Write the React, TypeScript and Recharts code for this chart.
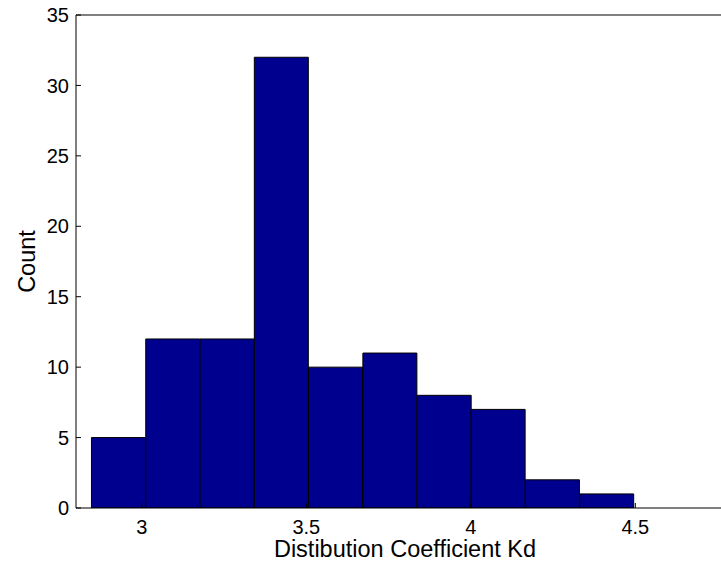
import React from "react";
import { BarChart, Bar, XAxis, YAxis, Label } from "recharts";

// histogram bins (bin centres) and counts
const binCenters = [2.929, 3.094, 3.259, 3.424, 3.589, 3.754, 3.919, 4.083, 4.248, 4.413];
const counts = [5, 12, 12, 32, 10, 11, 8, 7, 2, 1];
const xTicks = [3, 3.5, 4, 4.5];
const yTicks = [0, 5, 10, 15, 20, 25, 30, 35];

const data = binCenters.map((c, i) => ({ center: c, count: counts[i] }));

const FONT = "'Liberation Sans', Arial, Helvetica, sans-serif";

export default function App() {
    return (
        <div style={{
            position: "fixed",
            left: 0,
            top: 0,
            width: 721,
            height: 563,
            overflow: "hidden",
            background: "#fff",
        }}>
            <BarChart
                width={734}
                height={563}
                data={data}
                margin={{ top: 14, right: 0, bottom: 0, left: 0 }}
                barCategoryGap={0}
                barGap={0}
            >
                <XAxis
                    xAxisId="top"
                    orientation="top"
                    type="number"
                    dataKey="center"
                    domain={[2.8, 4.8]}
                    ticks={xTicks}
                    allowDataOverflow
                    height={1}
                    tick={false}
                    tickSize={-5}
                    axisLine={{ stroke: "#000" }}
                    tickLine={{ stroke: "#000" }}
                />
                <XAxis
                    type="number"
                    dataKey="center"
                    domain={[2.8, 4.8]}
                    ticks={xTicks}
                    allowDataOverflow
                    height={55}
                    tickSize={-5}
                    tickMargin={17}
                    axisLine={{ stroke: "#000" }}
                    tickLine={{ stroke: "#000" }}
                    tick={{ fontSize: 20, fill: "#000", fontFamily: FONT }}
                >
                    <Label
                        value="Distibution Coefficient Kd"
                        position="insideBottom"
                        offset={6}
                        fill="#000"
                        style={{ fontSize: 23.5, fontFamily: FONT, fill: "#000" }}
                    />
                </XAxis>
                <YAxis
                    type="number"
                    domain={[0, 35]}
                    ticks={yTicks}
                    allowDataOverflow
                    width={76}
                    tickSize={-5}
                    tickMargin={12}
                    axisLine={{ stroke: "#000" }}
                    tickLine={{ stroke: "#000" }}
                    tick={{ fontSize: 20, fill: "#000", fontFamily: FONT }}
                >
                    <Label
                        value="Count"
                        angle={-90}
                        position="insideLeft"
                        offset={27}
                        fill="#000"
                        style={{ fontSize: 23.5, fontFamily: FONT, fill: "#000", textAnchor: "middle" }}
                    />
                </YAxis>
                <Bar
                    dataKey="count"
                    fill="#00008F"
                    stroke="#000"
                    strokeWidth={1}
                    isAnimationActive={false}
                />
            </BarChart>
        </div>
    );
}
